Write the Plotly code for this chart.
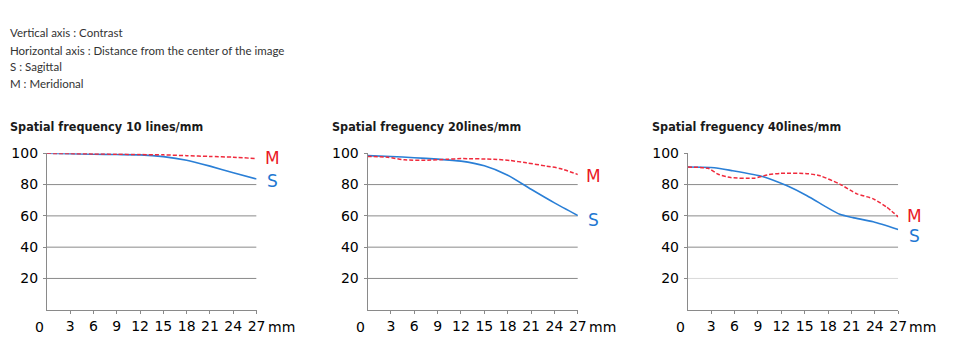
import plotly.graph_objects as go

# ---------------- data ----------------
header_lines = [
    "Vertical axis : Contrast",
    "Horizontal axis : Distance from the center of the image",
    "S : Sagittal",
    "M : Meridional",
]
titles = [
    "Spatial frequency 10 lines/mm",
    "Spatial freguency 20lines/mm",
    "Spatial freguency 40lines/mm",
]
x_ticks = [3, 6, 9, 12, 15, 18, 21, 24, 27]
y_ticks = [20, 40, 60, 80, 100]
grid_values = [20, 40, 60, 80]

s10_x = [0, 3, 6, 9, 12, 15, 18, 21, 24, 27]
s10_y = [100, 99.7, 99.4, 99.2, 99.0, 97.9, 95.6, 91.8, 87.6, 83.6]
m10_x = [0, 3, 6, 9, 12, 15, 18, 21, 24, 27]
m10_y = [100, 99.8, 99.6, 99.4, 99.2, 99.0, 98.5, 98.0, 97.5, 96.6]

s20_x = [0, 3, 6, 9, 12, 15, 18, 21, 24, 27]
s20_y = [98.5, 98.0, 97.2, 96.3, 95.0, 92.0, 86.0, 77.0, 68.3, 60.2]
m20_x = [0, 2.6, 4.7, 7.7, 10.3, 12, 16.2, 18.3, 20.4, 23, 24.7, 27]
m20_y = [98.0, 97.5, 95.8, 95.6, 96.2, 96.6, 96.2, 95.4, 93.9, 91.8, 90.3, 86.5]

s40_x = [0, 3.4, 5.5, 9.8, 12.75, 15.3, 17.8, 19.5, 21.2, 23.8, 27]
s40_y = [91.2, 90.8, 89.1, 84.9, 79.2, 72.9, 65.6, 61.0, 58.9, 56.2, 51.3]
m40_x = [0, 2.6, 3.9, 5.5, 8.5, 10.2, 11.9, 15.3, 17, 19.5, 21.7, 23.8, 25.5, 27]
m40_y = [91.2, 90.4, 86.6, 84.5, 84.1, 86.2, 87.2, 87.0, 85.6, 80.3, 74.1, 70.9, 65.7, 59.4]

label_m_y = [97.3, 85.6, 60.0]
label_s_y = [82.3, 57.5, 47.2]

charts = [
    (s10_x, s10_y, m10_x, m10_y),
    (s20_x, s20_y, m20_x, m20_y),
    (s40_x, s40_y, m40_x, m40_y),
]

# ---------------- styles ----------------
W, H = 960, 350
BLUE = "#2a7fd6"
RED = "#f02a3c"
BLUE_LBL = "#1f78d2"
RED_LBL = "#ea1a26"
AXIS = "#8a8a8a"
TICKFONT = dict(family="DejaVu Sans", size=14, color="#000000")
TITLEFONT = dict(family="DejaVu Sans Condensed, DejaVu Sans, sans-serif", size=12.5,
                 color="#1a1a1a", weight="bold")

x_domains_px = [(47.3, 259.0), (371.0, 583.3), (694.3, 906.7)]
title_left_px = [8, 333, 656]
y_dom = [1 - 308.8 / H, 1 - 148.7 / H]

fig = go.Figure()
layout = dict(
    width=W, height=H,
    margin=dict(l=0, r=0, t=0, b=0),
    paper_bgcolor="white", plot_bgcolor="white",
    showlegend=False,
)
shapes = []
annotations = []

for i, (sx, sy, mx, my) in enumerate(charts):
    n = "" if i == 0 else str(i + 1)
    xa, ya = "x" + n, "y" + n
    fig.add_trace(go.Scatter(x=sx, y=sy, mode="lines", xaxis=xa, yaxis=ya,
                             line=dict(color=BLUE, width=1.6, shape="spline", smoothing=0.6),
                             hoverinfo="skip"))
    fig.add_trace(go.Scatter(x=mx, y=my, mode="lines", xaxis=xa, yaxis=ya,
                             line=dict(color=RED, width=1.5, dash="4px,2px", shape="spline", smoothing=0.6),
                             hoverinfo="skip"))
    d0, d1 = x_domains_px[i]
    layout["xaxis" + n] = dict(
        domain=[d0 / W, d1 / W], range=[0, 27], anchor=ya,
        showgrid=False, zeroline=False, showline=True, linecolor=AXIS, linewidth=1,
        tickmode="array", tickvals=x_ticks, ticktext=[str(v) for v in x_ticks],
        ticks="outside", ticklen=3, tickcolor=AXIS, tickfont=TICKFONT,
        fixedrange=True,
    )
    layout["yaxis" + n] = dict(
        domain=y_dom, range=[0, 100], anchor=xa,
        showgrid=False, zeroline=False, showline=True, linecolor=AXIS, linewidth=1,
        tickmode="array", tickvals=y_ticks, ticktext=[str(v) for v in y_ticks],
        ticks="outside", ticklen=3, tickcolor=AXIS, tickfont=TICKFONT,
        ticklabelstandoff=2, fixedrange=True,
    )
    for g in grid_values:
        col = "#d9d9d9" if (i == 2 and g == 20) else AXIS
        shapes.append(dict(type="line", xref=xa, yref=ya, x0=0, x1=27, y0=g, y1=g,
                           line=dict(color=col, width=1), layer="below"))
    annotations.append(dict(x=0, y=0, xref=xa, yref=ya, text="0", showarrow=False,
                            xanchor="center", yanchor="top", xshift=-7, yshift=-7,
                            font=TICKFONT))
    annotations.append(dict(x=27, y=0, xref=xa, yref=ya, text="mm", showarrow=False,
                            xanchor="left", yanchor="top", xshift=9, yshift=-7,
                            font=TICKFONT))
    annotations.append(dict(x=27, y=label_m_y[i], xref=xa, yref=ya, text="M", showarrow=False,
                            xanchor="center", yanchor="middle", xshift=16,
                            font=dict(family="DejaVu Sans", size=17, color=RED_LBL)))
    annotations.append(dict(x=27, y=label_s_y[i], xref=xa, yref=ya, text="S", showarrow=False,
                            xanchor="center", yanchor="middle", xshift=16,
                            font=dict(family="DejaVu Sans", size=17, color=BLUE_LBL)))
    annotations.append(dict(x=title_left_px[i] / W, y=1 - 121.7 / H, xref="paper", yref="paper",
                            text=titles[i], showarrow=False, xanchor="left", yanchor="middle",
                            font=TITLEFONT))

header_y_px = [25, 43, 60, 77]
for t, py in zip(header_lines, header_y_px):
    annotations.append(dict(x=8 / W, y=1 - py / H, xref="paper", yref="paper", text=t,
                            showarrow=False, xanchor="left", yanchor="middle",
                            font=dict(family="Lato", size=11.5, color="#333333")))

layout["shapes"] = shapes
layout["annotations"] = annotations
fig.update_layout(**layout)
fig.write_html("out.html", config={"displayModeBar": False})
